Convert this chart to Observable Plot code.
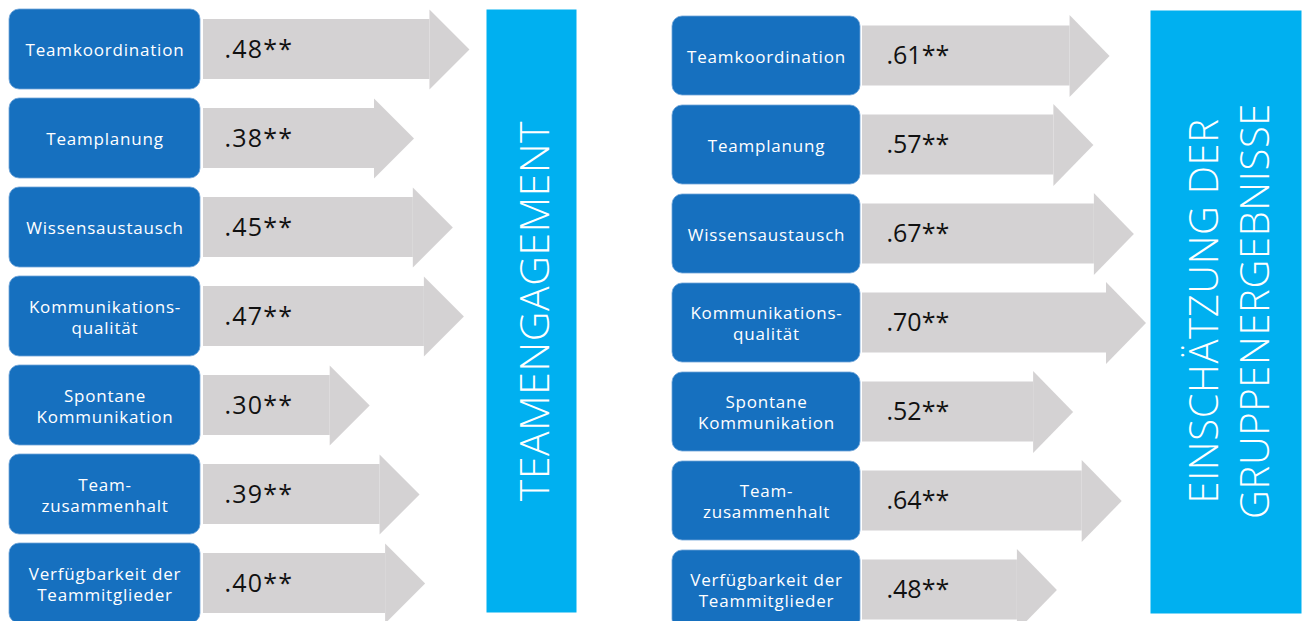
<!DOCTYPE html>
<html>
<head>
<meta charset="utf-8">
<script src="https://cdn.jsdelivr.net/npm/d3@7"></script>
<script src="https://cdn.jsdelivr.net/npm/@observablehq/plot@0.6"></script>
<style>
  html, body { margin: 0; padding: 0; background: #ffffff; }
  #chart { display: flex; width: 1306px; height: 621px; overflow: hidden; }
  #chart svg { display: block; flex: none; }
</style>
</head>
<body>
<div id="chart"></div>
<script>
// ---- data ----
const predictors = [
  "Teamkoordination",
  "Teamplanung",
  "Wissensaustausch",
  "Kommunikations-\nqualität",
  "Spontane\nKommunikation",
  "Team-\nzusammenhalt",
  "Verfügbarkeit der\nTeammitglieder"
];
const engagementR = [0.48, 0.38, 0.45, 0.47, 0.30, 0.39, 0.40];
const resultsR    = [0.61, 0.57, 0.67, 0.70, 0.52, 0.64, 0.48];
const engagementSig = ["**", "**", "**", "**", "**", "**", "**"];
const resultsSig    = ["**", "**", "**", "**", "**", "**", "**"];
const outcomeLeft  = "TEAMENGAGEMENT";
const outcomeRight = "EINSCHÄTZUNG DER\nGRUPPENERGEBNISSE";

// ---- styles ----
const BLUE = "#1670bf";
const GRAY = "#d4d2d3";
const CYAN = "#00b0f0";
const LABEL_FONT = "'Open Sans', 'DejaVu Sans', sans-serif";
const VALUE_FONT = "'Open Sans', 'DejaVu Sans', sans-serif";
const TITLE_FONT = "'Open Sans', Roboto, Lato, sans-serif";

const fmt = (v, s) => d3.format(".2f")(v).replace(/^0/, "") + s;

function headSymbol(len, half) {
  return {
    draw(ctx) {
      ctx.moveTo(0, 0);
      ctx.lineTo(-len, -half);
      ctx.lineTo(-len, half);
      ctx.closePath();
    }
  };
}

function panel(values, sig, outcome, L) {
  const rows = predictors.map((label, i) => ({label, value: values[i], text: fmt(values[i], sig[i])}));
  const frameRight = L.width - L.marginRight;
  const svg = Plot.plot({
    width: L.width,
    height: 621,
    marginLeft: L.boxLeft,
    marginRight: L.marginRight,
    marginTop: 0,
    marginBottom: 0,
    style: {background: "transparent", overflow: "visible"},
    x: {domain: [0, 1], range: [L.barStart, L.barStart + L.k], axis: null},
    y: {domain: predictors, range: L.yRange, paddingInner: L.padInner, paddingOuter: 0, axis: null},
    marks: [
      // outcome column
      Plot.frame({fill: CYAN, stroke: "none", insetLeft: L.cyanLeft - L.boxLeft, insetTop: L.cyanTop, insetBottom: 621 - L.cyanBottom}),
      Plot.text([outcome], {
        text: d => d, frameAnchor: "right", dx: L.titleX - frameRight,
        rotate: -90, textAnchor: "middle", lineAnchor: "middle",
        fill: "white", fontSize: L.titleSize, fontWeight: 300, fontFamily: TITLE_FONT, lineHeight: L.titleLH
      }),
      // predictor boxes
      Plot.cell(rows, {y: "label", fill: BLUE, rx: 10, insetRight: frameRight - L.boxRight, stroke: "#6fa3d8", strokeWidth: 0.8}),
      // arrows: shaft + head
      Plot.barX(rows, {x: "value", y: "label", fill: GRAY, insetTop: L.shaftInset, insetBottom: L.shaftInset, insetRight: L.headLen - 0.5}),
      Plot.dot(rows, {x: "value", y: "label", symbol: headSymbol(L.headLen, L.headHalf), fill: GRAY, stroke: "none"}),
      // correlation labels
      Plot.text(rows, {x: d => 0, y: "label", text: "text", dx: L.valueDx, textAnchor: "start", fontSize: L.valueSize, fontFamily: VALUE_FONT, fill: "#111"}),
      // predictor labels
      Plot.text(rows, {
        y: "label", text: "label", frameAnchor: "left", dx: (L.boxRight - L.boxLeft) / 2,
        textAnchor: "middle", lineAnchor: "middle", fill: "white", fontSize: 17, lineHeight: 1.25, fontFamily: LABEL_FONT
      })
    ]
  });
  const groups = svg.querySelectorAll('g[aria-label="text"]');
  groups[0].setAttribute("letter-spacing", "0.6px");
  groups[1].setAttribute("letter-spacing", L.valueSpacing + "px");
  groups[2].setAttribute("letter-spacing", "0.8px");
  return svg;
}

const left = panel(engagementR, engagementSig, outcomeLeft, {
  width: 600, marginRight: 24, boxLeft: 9, boxRight: 200, barStart: 203, k: 554,
  yRange: [8.2, 622.8], padInner: 0.102, shaftInset: 10, headLen: 40, headHalf: 40,
  valueDx: 21, valueSize: 25, valueSpacing: 1.2,
  cyanLeft: 486, cyanTop: 9, cyanBottom: 612, titleX: 532, titleSize: 41, titleLH: 1.25
});
const right = panel(resultsR, resultsSig, outcomeRight, {
  width: 706, marginRight: 5, boxLeft: 72, boxRight: 260, barStart: 262, k: 405,
  yRange: [14.7, 629.5], padInner: 0.115, shaftInset: 9.5, headLen: 40, headHalf: 41,
  valueDx: 24, valueSize: 25, valueSpacing: 0,
  cyanLeft: 550, cyanTop: 10, cyanBottom: 613, titleX: 626.5, titleSize: 40, titleLH: 1.27
});
document.getElementById("chart").append(left, right);
</script>
</body>
</html>
